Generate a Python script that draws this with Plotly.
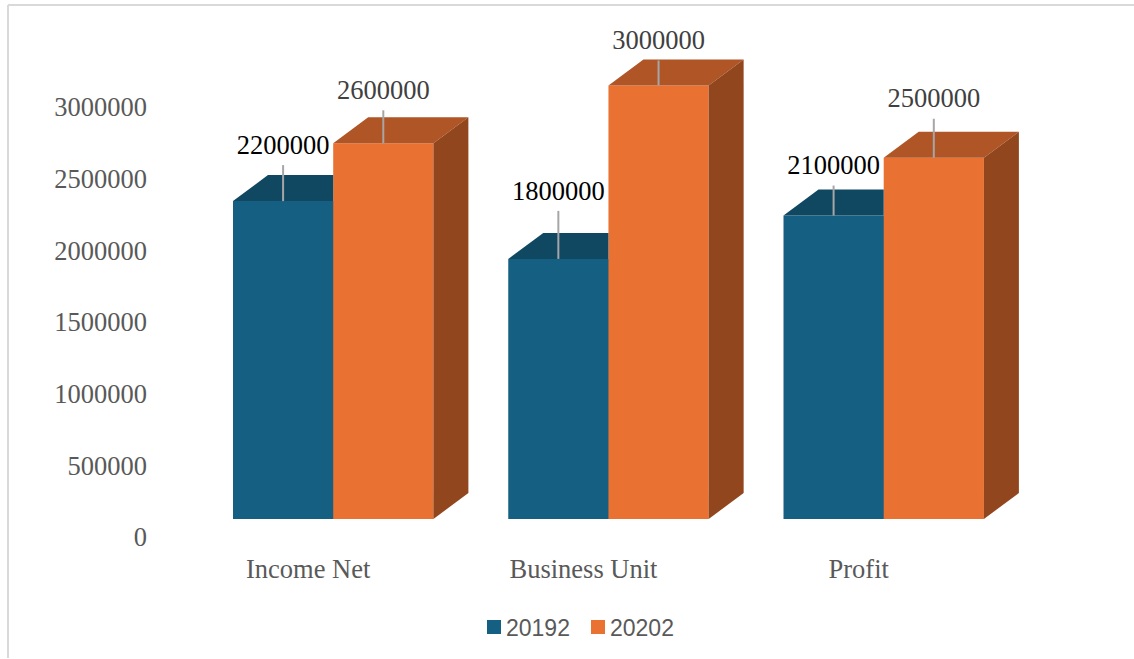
import plotly.graph_objects as go

# Data
categories = ["Income Net", "Business Unit", "Profit"]
series_names = ["20192", "20202"]
values_2019 = [2200000, 1800000, 2100000]
values_2020 = [2600000, 3000000, 2500000]
y_ticks = [0, 500000, 1000000, 1500000, 2000000, 2500000, 3000000]

# Layout / style constants
W, H = 1134, 659
PLOT_L, PLOT_B = 148, 122
PX_PER_VALUE = 144.5 / 1e6         # bars
PX_PER_TICK_VALUE = 143.33 / 1e6   # value-axis labels
PX_PER_X = 275.25
CENTER_0 = 333.2
BAR_W = 100.2 / PX_PER_X
SEAM = 1 / PX_PER_X
DEPTH_X = 35 / PX_PER_X
DEPTH_Y = 26 / PX_PER_VALUE
BASE_LIFT = 18 / PX_PER_VALUE
LABEL_SHIFT = -25 / PX_PER_X

BLUE, BLUE_TOP = "#156082", "#104862"
ORANGE, ORANGE_TOP, ORANGE_SIDE = "#E97132", "#AF5526", "#92461E"
LEADER = "#A6A6A6"
SERIF = "Liberation Serif"
SANS = "Liberation Sans"

# leader-line and label lift above each bar, in pixels
line_lift_2019 = [36, 48, 30]
line_lift_2020 = [33, 25, 39]
text_lift_2019 = [54, 66, 48]
text_lift_2020 = [51, 43, 57]

xs = list(range(len(categories)))
fig = go.Figure()

# front faces (the blue one runs slightly under the orange one so no seam shows)
fig.add_trace(go.Bar(x=[i - BAR_W / 2 + SEAM / 2 for i in xs], y=values_2019, width=BAR_W + SEAM, yaxis="y2",
                     marker=dict(color=BLUE, line_width=0), showlegend=False))
fig.add_trace(go.Bar(x=[i + BAR_W / 2 for i in xs], y=values_2020, width=BAR_W, yaxis="y2",
                     marker=dict(color=ORANGE, line_width=0), showlegend=False))


def poly(px, py, color):
    fig.add_trace(go.Scatter(x=px, y=py, yaxis="y2", mode="lines", fill="toself", fillcolor=color,
                             line=dict(width=0, color=color), showlegend=False, hoverinfo="skip"))


for i, v19, v20 in zip(xs, values_2019, values_2020):
    # 2019 top face (rear part is hidden behind the 2020 bar)
    left = i - BAR_W
    poly([left, left + DEPTH_X, i, i, left], [v19, v19 + DEPTH_Y, v19 + DEPTH_Y, v19, v19], BLUE_TOP)
    # 2020 top face
    poly([i, i + DEPTH_X, i + BAR_W + DEPTH_X, i + BAR_W, i],
         [v20, v20 + DEPTH_Y, v20 + DEPTH_Y, v20, v20], ORANGE_TOP)
    # 2020 side face
    poly([i + BAR_W, i + BAR_W + DEPTH_X, i + BAR_W + DEPTH_X, i + BAR_W, i + BAR_W],
         [v20, v20 + DEPTH_Y, DEPTH_Y, 0, v20], ORANGE_SIDE)

# leader lines and data labels
for offset, vals, line_lift, text_lift, color in [
    (-BAR_W / 2, values_2019, line_lift_2019, text_lift_2019, "#000000"),
    (BAR_W / 2, values_2020, line_lift_2020, text_lift_2020, "#404040"),
]:
    for i, v, ll, tl in zip(xs, vals, line_lift, text_lift):
        fig.add_trace(go.Scatter(x=[i + offset, i + offset], y=[v, v + ll / PX_PER_VALUE], yaxis="y2",
                                 mode="lines", line=dict(color=LEADER, width=2),
                                 showlegend=False, hoverinfo="skip"))
        fig.add_trace(go.Scatter(x=[i + offset], y=[v + tl / PX_PER_VALUE], yaxis="y2", mode="text",
                                 text=[str(v)], textposition="middle center",
                                 textfont=dict(family=SERIF, size=26.5, color=color),
                                 showlegend=False, hoverinfo="skip"))

# legend entries
for name, color in zip(series_names, [BLUE, ORANGE]):
    fig.add_trace(go.Scatter(x=[None], y=[None], mode="markers", name=name,
                             marker=dict(symbol="square", size=14, color=color, line_width=0)))

plot_w = W - PLOT_L
plot_h = H - PLOT_B


def px_x(p):
    return (p - PLOT_L) / plot_w


def px_y(p):
    return (H - PLOT_B - p) / plot_h


border = dict(color="#D9D9D9", width=2)
fig.update_layout(
    width=W, height=H, autosize=False,
    margin=dict(l=PLOT_L, r=0, t=0, b=PLOT_B, pad=0),
    paper_bgcolor="white", plot_bgcolor="rgba(0,0,0,0)",
    barmode="overlay",
    xaxis=dict(range=[(PLOT_L - CENTER_0) / PX_PER_X, (W - CENTER_0) / PX_PER_X],
               tickmode="array", tickvals=[i + LABEL_SHIFT for i in xs], ticktext=categories,
               tickfont=dict(family=SERIF, size=26.5, color="#595959"),
               showgrid=False, zeroline=False, showline=False,
               ticks="outside", ticklen=8, tickcolor="rgba(0,0,0,0)"),
    yaxis=dict(range=[0, plot_h / PX_PER_TICK_VALUE],
               tickmode="array", tickvals=y_ticks, ticktext=[str(t) for t in y_ticks],
               tickfont=dict(family=SERIF, size=26.5, color="#595959"),
               showgrid=False, zeroline=False, showline=False, ticks=""),
    yaxis2=dict(range=[-BASE_LIFT, (plot_h / PX_PER_VALUE) - BASE_LIFT], overlaying="y",
                visible=False),
    legend=dict(orientation="h", x=px_x(466), xanchor="left", y=px_y(627), yanchor="middle",
                font=dict(family=SANS, size=23, color="#595959"),
                entrywidth=59, entrywidthmode="pixels",
                bgcolor="rgba(0,0,0,0)", borderwidth=0),
    shapes=[
        dict(type="line", xref="paper", yref="paper", x0=px_x(8), x1=px_x(8), y0=px_y(5), y1=px_y(658), line=border),
        dict(type="line", xref="paper", yref="paper", x0=px_x(8), x1=px_x(W), y0=px_y(5), y1=px_y(5), line=border),
    ],
)

# page without body margin; legend swatches sit closer to their text
post = """
document.body.style.margin = '0';
document.querySelectorAll('.legend .legendpoints path').forEach(function (p) {
  p.setAttribute('transform', 'translate(28,0)');
});
"""
fig.write_html("out.html", post_script=post, config={"displayModeBar": False})
